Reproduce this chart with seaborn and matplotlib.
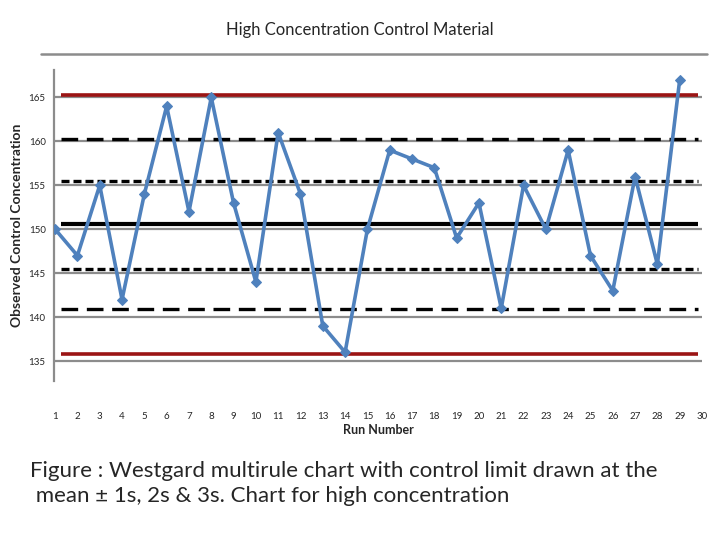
import numpy as np
import matplotlib
matplotlib.use("Agg")
import matplotlib.pyplot as plt
import pandas as pd
import seaborn as sns

# observed values per run
runs = list(range(1, 30))
observed = [150, 147, 155, 142, 154, 164, 152, 165, 153, 144,
            161, 154, 139, 136, 150, 159, 158, 157, 149, 153,
            141, 155, 150, 159, 147, 143, 156, 146, 167]

# control limits (mean, +-1s, +-2s, +-3s)
mean_line = 150.55
sd1_lines = [155.5, 145.45]
sd2_lines = [160.25, 140.95]
sd3_lines = [165.3, 135.85]
limit_span = [1.25, 29.8]

y_ticks = [135, 140, 145, 150, 155, 160, 165]
top_grid = 170
x_ticks = list(range(1, 31))

sns.set_style("white")
plt.rcParams['font.family'] = ['Lato', 'DejaVu Sans']

fig = plt.figure(figsize=(7.2, 5.4), dpi=100)
ax = fig.add_axes([0.075, 0.294, 0.900, 0.576])

# gridlines
for t in y_ticks:
    ax.axhline(t, color='#8c8c8c', lw=1.6, zorder=0)
# stray top gridline sitting above the axis
ax.axhline(top_grid, xmin=-0.02, xmax=1.008, color='#8c8c8c', lw=1.8,
           clip_on=False, zorder=0)

# control limits
ax.hlines(sd3_lines, *limit_span, color='#9b1414', lw=2.6, zorder=1)
ax.hlines(sd2_lines, *limit_span, color='black', lw=2.4,
          linestyles=(0, (5, 2.6)), zorder=1)
ax.hlines(sd1_lines, *limit_span, color='black', lw=2.4,
          linestyles=(0, (2.4, 1.2)), zorder=1)
ax.hlines([mean_line], *limit_span, color='black', lw=3, zorder=1)

df = pd.DataFrame({'run': runs, 'value': observed})
sns.lineplot(data=df, x='run', y='value', ax=ax, color='#4f81bd', lw=2.6,
             marker='D', markersize=5, markeredgecolor='#4f81bd', zorder=3)

ax.set_xlim(0.95, 30)
ax.set_ylim(132.7, 168.1)
ax.set_yticks(y_ticks)
ax.set_yticklabels([str(t) for t in y_ticks], fontsize=7)
ax.set_xticks(x_ticks)
ax.set_xticklabels([str(t) for t in x_ticks], fontsize=7)
ax.tick_params(axis='x', length=0, pad=22)
ax.tick_params(axis='y', length=0, pad=6)

for s in ['top', 'right', 'bottom']:
    ax.spines[s].set_visible(False)
ax.spines['left'].set_color('#8c8c8c')
ax.spines['left'].set_linewidth(1.6)

ax.set_xlabel('Run Number', fontsize=9, fontweight='bold', labelpad=2)
ax.set_ylabel('Observed Control Concentration', fontsize=10, fontweight='bold', labelpad=4)

fig.text(0.5, 0.945, 'High Concentration Control Material', ha='center',
         va='center', fontsize=12)
fig.text(0.042, 0.105,
         'Figure : Westgard multirule chart with control limit drawn at the\n'
         ' mean \u00b1 1s, 2s & 3s. Chart for high concentration',
         ha='left', va='center', fontsize=16, linespacing=1.3)

fig.savefig('out.png', dpi=100)
